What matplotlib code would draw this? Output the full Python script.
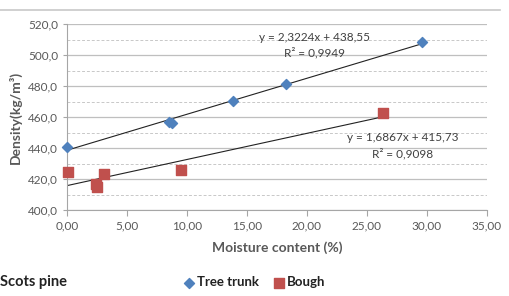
import numpy as np
from matplotlib import pyplot as plt
from matplotlib.lines import Line2D
from matplotlib.ticker import FuncFormatter, MultipleLocator

plt.rcParams['font.family'] = ['Lato', 'DejaVu Sans']

trunk_x = [0.0, 8.5, 8.75, 13.8, 18.25, 29.6]
trunk_y = [440.6, 456.8, 456.0, 470.3, 481.3, 508.4]
bough_x = [0.1, 2.4, 2.5, 3.1, 9.5, 26.3]
bough_y = [424.5, 416.8, 414.8, 423.2, 425.8, 462.6]

trunk_fit = (2.3224, 438.55)
bough_fit = (1.6867, 415.73)
trunk_eq = ['y = 2,3224x + 438,55', 'R² = 0,9949']
bough_eq = ['y = 1,6867x + 415,73', 'R² = 0,9098']

blue = '#4F81BD'
red = '#C0504D'
grey = '#595959'

fig = plt.figure(figsize=(5.10, 2.96), dpi=100)
ax = fig.add_axes([67/510, 1-210/296, 420/510, 186/296])

ax.set_xlim(0, 35)
ax.set_ylim(400, 520)
ax.xaxis.set_major_locator(MultipleLocator(5))
ax.yaxis.set_major_locator(MultipleLocator(20))
ax.yaxis.set_minor_locator(MultipleLocator(10))
ax.xaxis.set_major_formatter(FuncFormatter(lambda v, p: f'{v:.2f}'.replace('.', ',')))
ax.yaxis.set_major_formatter(FuncFormatter(lambda v, p: f'{v:.1f}'.replace('.', ',')))
ax.grid(axis='y', which='major', color='#BFBFBF', lw=0.9)
ax.grid(axis='y', which='minor', color='#C8C8C8', lw=0.7, ls=(0, (3, 2)))
ax.set_axisbelow(True)
for s in ['top', 'right']:
    ax.spines[s].set_visible(False)
for s in ['left', 'bottom']:
    ax.spines[s].set_color('#A6A6A6')
ax.tick_params(axis='x', colors='#A6A6A6', labelcolor=grey, labelsize=8.5, length=4, direction='out')
ax.tick_params(axis='y', colors='#A6A6A6', labelcolor=grey, labelsize=8.5, length=3, direction='out')
ax.tick_params(axis='y', which='minor', length=0)

xt = np.array([0, max(trunk_x)])
ax.plot(xt, trunk_fit[0]*xt + trunk_fit[1], color='#222222', lw=0.8, zorder=2)
xb = np.array([0, max(bough_x)])
ax.plot(xb, bough_fit[0]*xb + bough_fit[1], color='#222222', lw=0.8, zorder=2)

ax.scatter(trunk_x, trunk_y, marker='D', s=26, color=blue, label='Tree trunk', zorder=3, clip_on=False)
ax.scatter(bough_x, bough_y, marker='s', s=42, color=red, label='Bough', zorder=3, clip_on=False)

ax.text(20.6, 511, trunk_eq[0], fontsize=8.5, color='#404040', ha='center', va='center')
ax.text(20.6, 501.5, trunk_eq[1], fontsize=8.5, color='#404040', ha='center', va='center')
ax.text(28.0, 446.5, bough_eq[0], fontsize=8.5, color='#404040', ha='center', va='center')
ax.text(28.0, 436.5, bough_eq[1], fontsize=8.5, color='#404040', ha='center', va='center')

ax.set_xlabel('Moisture content (%)', fontsize=10, fontweight='bold', color=grey, labelpad=7)
ax.set_ylabel('Density(kg/m³)', fontsize=10, fontweight='bold', color=grey, labelpad=4)

fig.add_artist(Line2D([0, 500/510], [1-10/296, 1-10/296], color='#C8C8C8', lw=1.2))
fig.text(0/510, 1-282/296, 'Scots pine', fontsize=10.5, fontweight='bold', color='#222222', va='center')

fig.legend(loc='center', bbox_to_anchor=(255/510, 1-282/296), ncol=2, frameon=False,
           handlelength=0.6, handletextpad=0.3, columnspacing=1.2,
           labelcolor='#222222', prop={'weight': 'bold', 'size': 9.5})

fig.savefig('out.png', dpi=100)
